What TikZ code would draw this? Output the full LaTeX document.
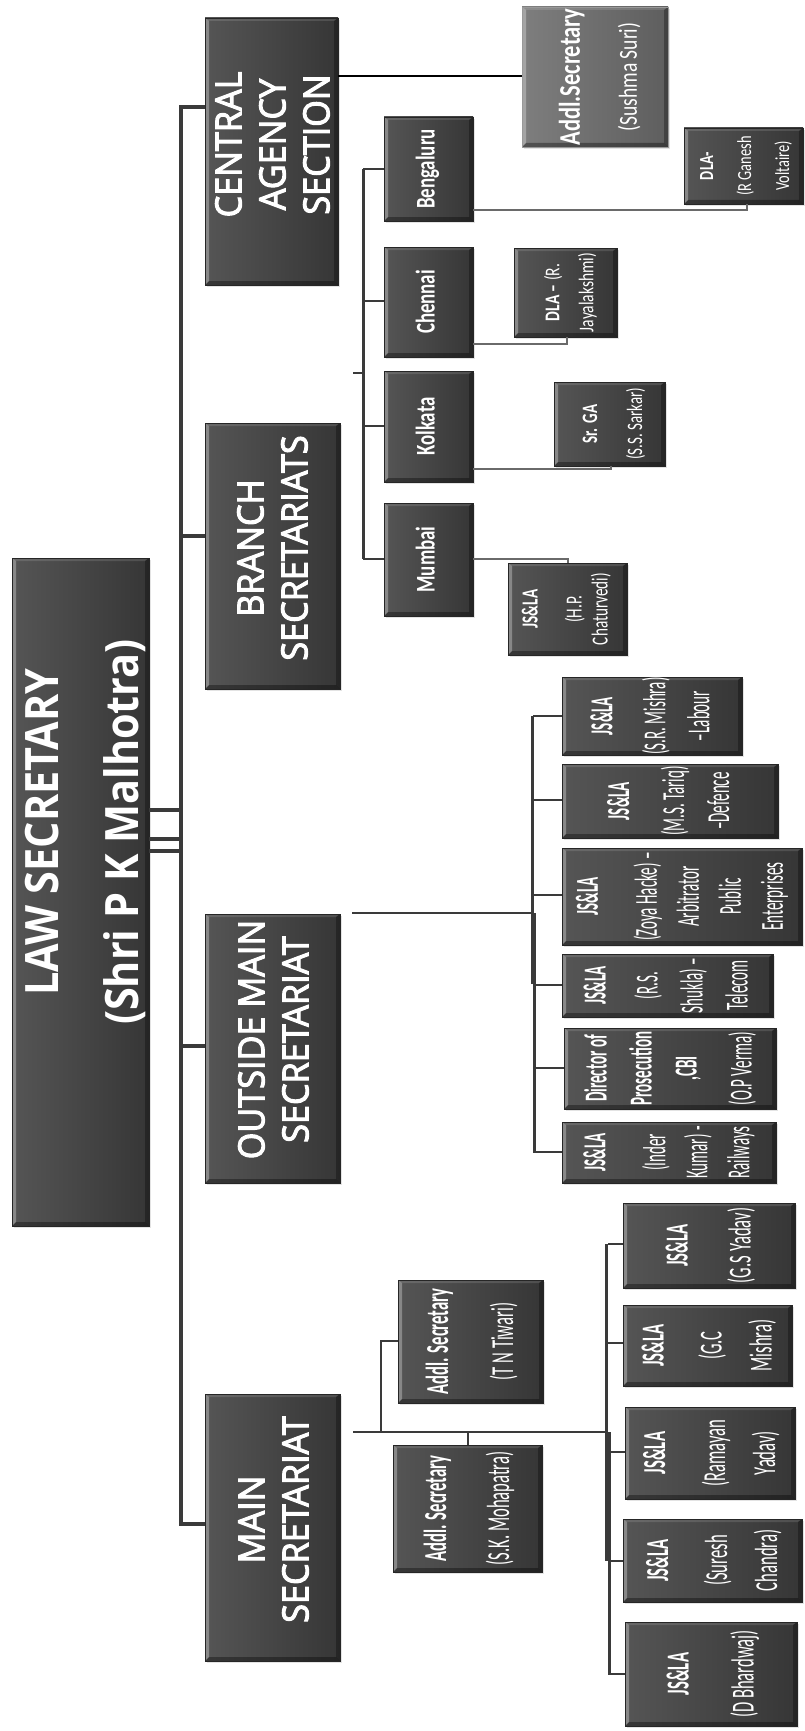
\documentclass[tikz,border=0pt]{standalone}
\usepackage{graphicx}
\usepackage{fontspec}
\setmainfont{Carlito}
\newfontfamily\headfont{Open Sans}[FakeBold=3]
\newfontfamily\titlefont{Open Sans}
\usetikzlibrary{shadows}

\definecolor{boxdark}{HTML}{363636}
\definecolor{boxlight}{HTML}{555555}
\definecolor{softdark}{HTML}{5E5E5E}
\definecolor{softlight}{HTML}{7E7E7E}
\definecolor{linedark}{HTML}{3A3A3A}
\definecolor{linegray}{HTML}{6A6A6A}

\tikzset{
  orgbox/.style={rectangle, inner sep=0pt, outer sep=0pt,
    left color=boxlight, right color=boxdark, draw=boxdark!70!black, line width=0.6pt,
    drop shadow={shadow xshift=2pt, shadow yshift=-2pt, opacity=0.22},
    path picture={
      \fill[white,opacity=0.30] (path picture bounding box.south west) -- (path picture bounding box.north west)
        -- ([shift={(4pt,-3pt)}]path picture bounding box.north west) -- ([shift={(4pt,4pt)}]path picture bounding box.south west) -- cycle;
      \fill[white,opacity=0.12] (path picture bounding box.north west) -- (path picture bounding box.north east)
        -- ([shift={(-4pt,-3pt)}]path picture bounding box.north east) -- ([shift={(4pt,-3pt)}]path picture bounding box.north west) -- cycle;
      \fill[black,opacity=0.30] (path picture bounding box.north east) -- (path picture bounding box.south east)
        -- ([shift={(-4pt,4pt)}]path picture bounding box.south east) -- ([shift={(-4pt,-3pt)}]path picture bounding box.north east) -- cycle;
      \fill[black,opacity=0.35] (path picture bounding box.south east) -- (path picture bounding box.south west)
        -- ([shift={(4pt,4pt)}]path picture bounding box.south west) -- ([shift={(-4pt,4pt)}]path picture bounding box.south east) -- cycle;
    }},
  softbox/.style={orgbox, left color=softlight, right color=softdark, draw=gray!80},
  lbl/.style={rotate=90, inner sep=0pt, outer sep=0pt, text=white},
  trunk/.style={draw=linedark, line width=4.5pt},
  lawline/.style={draw=linedark, line width=4pt},
  subbus/.style={draw=linedark, line width=3pt},
  child/.style={draw=linedark, line width=2.4pt},
  midlink/.style={draw=linedark, line width=2.2pt},
  graylink/.style={draw=linegray, line width=2.2pt},
  thinlink/.style={draw=black, line width=1.2pt}
}

% box from (x1,y1) to (x2,y2) with a rotated caption offset by (dx,dy)
\newcommand\orgnode[9]{%
  \node[#6, minimum width={(#4)-(#2)}, minimum height={(#5)-(#3)}] (#1) at ({((#2)+(#4))/2},{((#3)+(#5))/2}) {};
  \node[lbl] (#1-t) at ({((#2)+(#4))/2+(#7)},{((#3)+(#5))/2+(#8)}) {#9};}
% condensed caption: horizontal scale, size, leading, lines
\newcommand\txt[4]{\scalebox{#1}[1]{\fontsize{#2}{#3}\selectfont\begin{tabular}{@{}c@{}}#4\end{tabular}}}

\begin{document}
\begin{tikzpicture}[x=1pt,y=-1pt]
\useasboundingbox (0,0) rectangle (804,1731);
\fill[white] (0,0) rectangle (804,1731);

% ---------- junction points ----------
\coordinate (tA) at (181,107);
\coordinate (tB) at (181,536);
\coordinate (tC) at (181,1046);
\coordinate (tD) at (181,1524);
\coordinate (lw1) at (181,810);
\coordinate (lw2) at (181,839);
\coordinate (lw3) at (181,851);
\coordinate (cs) at (338,76);
\coordinate (bt0) at (353,373);
\coordinate (bt1) at (363,373);
\coordinate (bs1) at (363,169);
\coordinate (bs2) at (363,301);
\coordinate (bs3) at (363,426);
\coordinate (bs4) at (363,559);
\coordinate (dl1) at (747,210);
\coordinate (dl2) at (567,344);
\coordinate (dl3) at (611,469);
\coordinate (dl4) at (568,559);
\coordinate (ob) at (532,913);
\coordinate (oa1) at (532,716);
\coordinate (oa2) at (532,984);
\coordinate (ob1) at (534.5,913);
\coordinate (ob2) at (534.5,1152);
\coordinate (mb) at (607,1432);
\coordinate (mt1) at (381,1432);
\coordinate (mt2) at (381,1341);
\coordinate (mk) at (468,1432);
\coordinate (ma1) at (606.5,1244);
\coordinate (ma2) at (606.5,1561);
\coordinate (mb1) at (609,1432);
\coordinate (mb2) at (609,1674);

% ---------- boxes ----------
\orgnode{law}{12}{558}{149}{1226}{orgbox}{2}{-60}{\titlefont\bfseries\txt{0.9}{46}{80}{LAW SECRETARY\\(Shri P K Malhotra)}}

\orgnode{cen}{205}{18}{338}{285}{orgbox}{5}{-7}{\headfont\txt{0.95}{36}{44}{CENTRAL\\AGENCY\\SECTION}}
\orgnode{br}{205}{423}{340}{689}{orgbox}{4}{-8}{\headfont\txt{0.95}{36}{44}{BRANCH\\SECRETARIATS}}
\orgnode{out}{205}{914}{340}{1183}{orgbox}{5}{-9}{\headfont\txt{0.95}{36}{44}{OUTSIDE MAIN\\SECRETARIAT}}
\orgnode{main}{205}{1394}{340}{1661}{orgbox}{5}{-8}{\headfont\txt{0.95}{36}{44}{MAIN\\SECRETARIAT}}

\orgnode{sus}{522}{7}{668}{147}{softbox}{2}{0}{\txt{0.75}{30}{57}{\textbf{Addl.Secretary}\\{\fontsize{26}{57}\selectfont(Sushma Suri)}}}

\orgnode{blr}{384}{117}{473}{221}{orgbox}{0}{0}{\txt{0.7}{27}{30}{\textbf{Bengaluru}}}
\orgnode{chn}{384}{247}{473}{357}{orgbox}{0}{0}{\txt{0.7}{27}{30}{\textbf{Chennai}}}
\orgnode{kol}{384}{371}{473}{482}{orgbox}{0}{0}{\txt{0.7}{27}{30}{\textbf{Kolkata}}}
\orgnode{mum}{384}{503}{473}{616}{orgbox}{0}{0}{\txt{0.7}{27}{30}{\textbf{Mumbai}}}

\orgnode{dlaG}{684}{128}{803}{204}{orgbox}{0}{0}{\txt{0.72}{20}{38}{\textbf{DLA-}\\(R Ganesh\\Voltaire)}}
\orgnode{dlaJ}{514}{248}{617}{337}{orgbox}{4}{0}{\txt{0.74}{21}{34}{\textbf{DLA –} (R.\\Jayalakshmi)}}
\orgnode{srga}{554}{382}{665}{466}{orgbox}{1}{0}{\txt{0.68}{22}{45}{\textbf{Sr. GA}\\(S.S. Sarkar)}}
\orgnode{jsHP}{508}{563}{627}{655}{orgbox}{0}{0}{\txt{0.66}{23}{26}{\textbf{JS\&LA}\\[18pt](H.P.\\Chaturvedi)}}

\orgnode{o1}{562}{677}{742}{755}{orgbox}{0}{0}{\txt{0.47}{32}{44}{\textbf{JS\&LA}\\[9pt](S.R. Mishra)\\–Labour}}
\orgnode{o2}{562}{764}{778}{838}{orgbox}{0}{0}{\txt{0.47}{32}{45}{\textbf{JS\&LA}\\[10pt](M.S. Tariq)\\–Defence}}
\orgnode{o3}{562}{848}{802}{945}{orgbox}{0}{0}{\txt{0.47}{32}{42}{\textbf{JS\&LA}\\[17pt](Zoya Hacke) –\\Arbitrator\\Public\\Enterprises}}
\orgnode{o4}{562}{954}{773}{1017}{orgbox}{0}{0}{\txt{0.47}{32}{45}{\textbf{JS\&LA}\\[7pt](R.S.\\Shukla) –\\Telecom}}
\orgnode{o5}{564}{1028}{776}{1109}{orgbox}{0}{0}{\txt{0.47}{32}{45}{\textbf{Director of}\\\textbf{Prosecution}\\\textbf{,CBI}\\[10pt](O.P Verma)}}
\orgnode{o6}{562}{1122}{776}{1183}{orgbox}{0}{0}{\txt{0.47}{32}{42}{\textbf{JS\&LA}\\[18pt](Inder\\Kumar) -\\Railways}}

\orgnode{tnt}{398}{1280}{543}{1403}{orgbox}{0}{0}{\txt{0.52}{32}{50}{\textbf{Addl. Secretary}\\[15pt](T N Tiwari)}}
\orgnode{skm}{393}{1445}{542}{1572}{orgbox}{0}{0}{\txt{0.52}{32}{50}{\textbf{Addl. Secretary}\\[13pt](S.K. Mohapatra)}}

\orgnode{m1}{623}{1203}{795}{1288}{orgbox}{0}{0}{\txt{0.52}{32}{50}{\textbf{JS\&LA}\\[13pt](G.S Yadav)}}
\orgnode{m2}{623}{1305}{792}{1386}{orgbox}{0}{0}{\txt{0.52}{32}{50}{\textbf{JS\&LA}\\[8pt](G.C\\Mishra)}}
\orgnode{m3}{625}{1407}{795}{1499}{orgbox}{0}{0}{\txt{0.52}{32}{50}{\textbf{JS\&LA}\\[10pt](Ramayan\\Yadav)}}
\orgnode{m4}{623}{1519}{802}{1602}{orgbox}{0}{0}{\txt{0.52}{32}{50}{\textbf{JS\&LA}\\[9pt](Suresh\\Chandra)}}
\orgnode{m5}{625}{1622}{797}{1726}{orgbox}{0}{0}{\txt{0.52}{32}{50}{\textbf{JS\&LA}\\[15pt](D Bhardwaj)}}

% ---------- lines ----------
% main trunk from the Law Secretary
\draw[trunk] (cen.west |- tA) -- (tA) -- (tD) -- (main.west |- tD);
\draw[trunk] (tB) -- (br.west |- tB);
\draw[trunk] (tC) -- (out.west |- tC);
\draw[lawline] (law.east |- lw1) -- (lw1);
\draw[lawline] (law.east |- lw2) -- (lw2);
\draw[lawline] (law.east |- lw3) -- (lw3);

% central agency section
\draw[thinlink] (cen.east |- cs) -- (sus.west |- cs);

% branch secretariats
\draw[child] (bt0) -- (bt1);
\draw[subbus] (bs1) -- (bs4);
\draw[child] (bs1) -- (blr.west |- bs1);
\draw[child] (bs2) -- (chn.west |- bs2);
\draw[child] (bs3) -- (kol.west |- bs3);
\draw[child] (bs4) -- (mum.west |- bs4);
\draw[graylink] (blr.east |- dl1) -- (dl1) -- (dlaG.south -| dl1);
\draw[graylink] (chn.east |- dl2) -- (dl2) -- (dlaJ.south -| dl2);
\draw[graylink] (kol.east |- dl3) -- (dl3) -- (srga.south -| dl3);
\draw[graylink] (mum.east |- dl4) -- (dl4) -- (jsHP.north -| dl4);

% outside main secretariat
\draw[midlink, shorten <=12pt] (out.east |- ob) -- (ob);
\draw[subbus] (oa1) -- (oa2);
\draw[subbus] (ob1) -- (ob2);
\foreach \n/\y in {o1/716, o2/800, o3/895, o4/985, o5/1068, o6/1152}{
  \coordinate (ob-\n) at (533,\y);
  \draw[child] (ob-\n) -- (\n.west |- ob-\n);
}

% main secretariat
\draw[midlink, shorten <=13pt] (main.east |- mb) -- (mb);
\draw[child] (mt1) -- (mt2) -- (tnt.west |- mt2);
\draw[child] (mk) -- (skm.north -| mk);
\draw[subbus] (ma1) -- (ma2);
\draw[subbus] (mb1) -- (mb2);
\foreach \n/\y in {m1/1244, m2/1343, m3/1452, m4/1561, m5/1674}{
  \coordinate (mb-\n) at (608,\y);
  \draw[child] (mb-\n) -- (\n.west |- mb-\n);
}
\end{tikzpicture}
\end{document}
